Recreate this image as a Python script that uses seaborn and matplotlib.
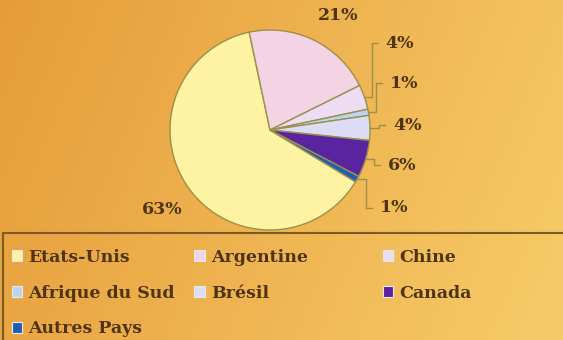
import numpy as np
import matplotlib
matplotlib.use('Agg')
import matplotlib.pyplot as plt
from matplotlib.patches import Rectangle
import seaborn as sns

# Data
countries = ['Etats-Unis', 'Argentine', 'Chine', 'Afrique du Sud', 'Brésil', 'Canada', 'Autres Pays']
shares = [63, 21, 4, 1, 4, 6, 1]
colors = ['#fdf3a2', '#f4d4e4', '#eddcf4', '#b9d5f0', '#dcdcf6', '#5a23a0', '#1f5db0']
pct_labels = [f'{v}%' for v in shares]

sns.set_theme(style='white')
plt.rcParams['font.family'] = ['DejaVu Serif']

text_col = '#4e3412'
line_col = '#9c8f4a'

fig = plt.figure(figsize=(5.63, 3.4), dpi=100)

# --- background gradient (orange -> light gold)
bg = fig.add_axes([0, 0, 1, 1])
gx = np.linspace(0, 1, 200)[None, :, None]
gy = np.linspace(0, 1, 120)[:, None, None]
left = np.array([231, 156, 58]) / 255
right = np.array([246, 204, 104]) / 255
img = left + (right - left) * (0.8 * gx + 0.2 * gy)
bg.imshow(img, aspect='auto', extent=(0, 1, 0, 1), origin='upper')
bg.set_axis_off()

# --- pie, drawn in pixel-like coordinates
ax = fig.add_axes([0, 0, 1, 1])
ax.patch.set_alpha(0)
cx, cy, r = 270, 210, 100
wedges, _ = ax.pie(shares, colors=colors, startangle=-31.2, counterclock=False,
                   center=(cx, cy), radius=r,
                   wedgeprops=dict(edgecolor=line_col, linewidth=1))
ax.set_xlim(0, 563)
ax.set_ylim(0, 340)
ax.set_aspect('equal')
ax.set_axis_off()

# label positions (layout only)
label_pos = [(162, 130), (338, 325), (400, 297), (404, 257), (407, 215), (402, 175), (394, 132)]
for i, (w, lab) in enumerate(zip(wedges, pct_labels)):
    lx, ly = label_pos[i]
    ax.text(lx, ly, lab, ha='center', va='center', fontsize=12.5, fontweight='bold', color=text_col)
    if i >= 2:
        mid = np.deg2rad((w.theta1 + w.theta2) / 2)
        ex, ey = cx + r * np.cos(mid), cy + r * np.sin(mid)
        x0 = lx - 22
        ax.plot([ex, x0 - 6, x0 - 6, x0], [ey, ey, ly, ly], color=line_col, lw=1)

# --- legend, row-wise in three columns
col_x = [0.006, 0.330, 0.665]
col_items = [[0, 3, 6], [1, 4], [2, 5]]
for x, idxs in zip(col_x, col_items):
    handles = [Rectangle((0, 0), 1, 1, facecolor=colors[k], edgecolor='#e8e8e8', lw=0.8) for k in idxs]
    leg = fig.legend(handles, [countries[k] for k in idxs], loc='upper left',
                     bbox_to_anchor=(x, 0.293), frameon=False, borderpad=0,
                     handlelength=0.6, handleheight=0.6, handletextpad=0.35,
                     labelspacing=1.07, prop={'size': 12.5, 'weight': 'bold'})
    for t in leg.get_texts():
        t.set_color(text_col)

fig.patches.append(Rectangle((3 / 563, -0.05), 1.0, (340 - 233) / 340 + 0.05,
                             transform=fig.transFigure, fill=False,
                             edgecolor='#7a5a25', lw=1.5))

fig.savefig('out.png', dpi=100)
